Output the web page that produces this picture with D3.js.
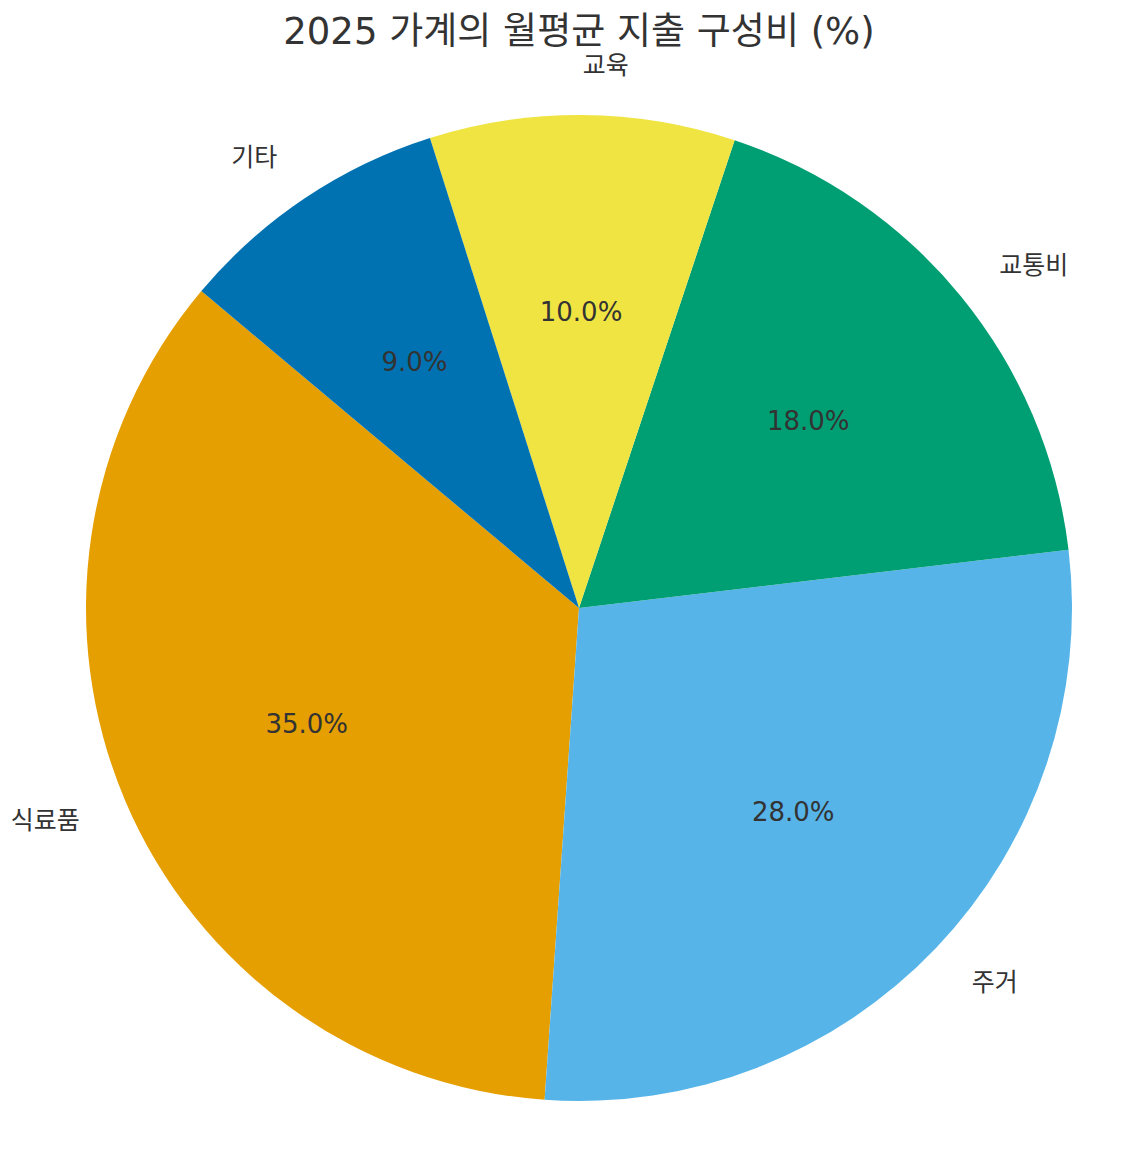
<!DOCTYPE html>
<html>
<head>
<meta charset="utf-8">
<script src="https://cdn.jsdelivr.net/npm/d3@7"></script>
<style>
  body { margin: 0; background: #fff; }
  svg text { font-family: "DejaVu Sans", "Noto Sans CJK KR", sans-serif; fill: #333333; }
</style>
</head>
<body>
<div id="chart"></div>
<script>
// data
var categories = ["식료품", "주거", "교통비", "교육", "기타"];
var shares = [35.0, 28.0, 18.0, 10.0, 9.0];
var colors = ["#E69F00", "#56B4E9", "#009E73", "#F0E442", "#0072B2"];
var title = "2025 가계의 월평균 지출 구성비 (%)";

var width = 1141, height = 1168;
var cx = 579, cy = 608, radius = 493;

var data = categories.map(function(c, i) { return { name: c, value: shares[i], color: colors[i] }; });

var svg = d3.select("#chart").append("svg")
    .attr("width", width)
    .attr("height", height);

// counter-clockwise like matplotlib, starting at startangle 140
var start = -50 * Math.PI / 180;
var pie = d3.pie()
    .value(function(d) { return d.value; })
    .sort(null)
    .startAngle(start)
    .endAngle(start - 2 * Math.PI);

var arc = d3.arc().innerRadius(0).outerRadius(radius);

var g = svg.append("g").attr("transform", "translate(" + cx + "," + cy + ")");

var arcs = pie(data);

g.selectAll("path")
    .data(arcs)
    .enter().append("path")
    .attr("d", arc)
    .attr("fill", function(d) { return d.data.color; });

function mid(d) { return (d.startAngle + d.endAngle) / 2; }

// category labels at 1.1 r
g.selectAll("text.lab")
    .data(arcs)
    .enter().append("text")
    .attr("class", "lab")
    .attr("x", function(d) { return 1.1 * radius * Math.sin(mid(d)); })
    .attr("y", function(d) { return -1.1 * radius * Math.cos(mid(d)); })
    .attr("dy", "0.35em")
    .attr("text-anchor", function(d) { return Math.sin(mid(d)) < 0 ? "end" : "start"; })
    .style("font-size", "25px")
    .text(function(d) { return d.data.name; });

// percentages at 0.6 r
g.selectAll("text.pct")
    .data(arcs)
    .enter().append("text")
    .attr("class", "pct")
    .attr("x", function(d) { return 0.6 * radius * Math.sin(mid(d)); })
    .attr("y", function(d) { return -0.6 * radius * Math.cos(mid(d)); })
    .attr("dy", "0.35em")
    .attr("text-anchor", "middle")
    .style("font-size", "26px")
    .text(function(d) { return d3.format(".1f")(d.data.value) + "%"; });

svg.append("text")
    .attr("x", cx)
    .attr("y", 44)
    .attr("text-anchor", "middle")
    .style("font-size", "37px")
    .text(title);
</script>
</body>
</html>
